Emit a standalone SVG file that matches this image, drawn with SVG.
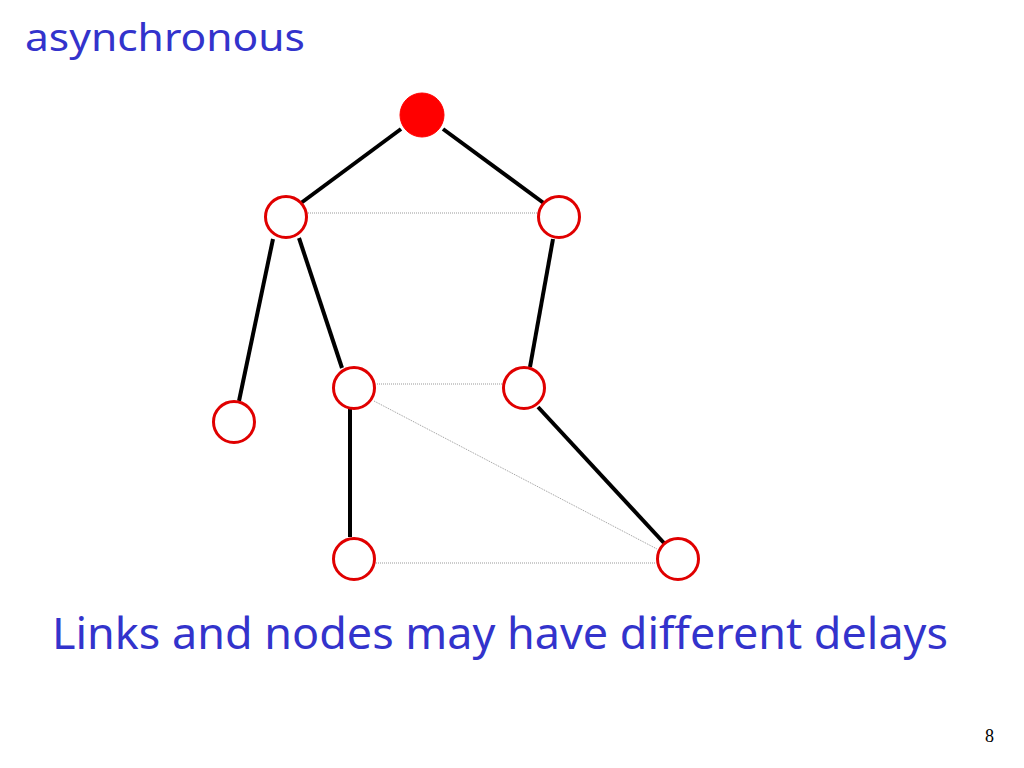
<svg xmlns="http://www.w3.org/2000/svg" width="1024" height="768" viewBox="0 0 1024 768">
<style>
.title{font-family:"Noto Sans","Open Sans",sans-serif;fill:#3333cc}
.solid{stroke:#000;stroke-width:4;fill:none}
.dot{stroke:#999;stroke-width:1;stroke-dasharray:1,1;fill:none}
.node{fill:#fff;stroke:#e00000;stroke-width:3}
.root{fill:#ff0000;stroke:#ff0000;stroke-width:1}
</style>
<rect width="1024" height="768" fill="#fff"/>
<text class="title" x="25" y="51" font-size="39" textLength="280" lengthAdjust="spacingAndGlyphs">asynchronous</text>
<g id="connectors">
<line class="solid" x1="401" y1="129" x2="301" y2="203"/>
<line class="solid" x1="443" y1="129" x2="545" y2="204"/>
<line class="solid" x1="273" y1="239" x2="239" y2="401"/>
<line class="solid" x1="299" y1="238" x2="342" y2="368"/>
<line class="solid" x1="553" y1="239" x2="530" y2="367"/>
<line class="solid" x1="350" y1="409" x2="350" y2="537"/>
<line class="solid" x1="538" y1="407" x2="664" y2="543"/>
<line class="dot" x1="308" y1="213" x2="537" y2="213"/>
<line class="dot" x1="377" y1="384" x2="503" y2="384"/>
<line class="dot" x1="374" y1="401" x2="657" y2="549"/>
<line class="dot" x1="376" y1="563" x2="656" y2="563"/>
</g>
<g id="root"><circle class="root" cx="422" cy="115" r="22"/></g>
<g id="nodeA"><circle class="node" cx="286" cy="217" r="20.5"/></g>
<g id="nodeB"><circle class="node" cx="559" cy="217" r="20.5"/></g>
<g id="nodeC"><circle class="node" cx="234" cy="422" r="20.5"/></g>
<g id="nodeD"><circle class="node" cx="354" cy="388" r="20.5"/></g>
<g id="nodeE"><circle class="node" cx="524" cy="388" r="20.5"/></g>
<g id="nodeF"><circle class="node" cx="354" cy="559" r="20.5"/></g>
<g id="nodeG"><circle class="node" cx="678" cy="559" r="20.5"/></g>
<text class="title" x="52" y="649" font-size="44" textLength="896" lengthAdjust="spacingAndGlyphs">Links and nodes may have different delays</text>
<text x="985" y="742" font-family="'Liberation Serif',serif" font-size="18" fill="#000">8</text>
</svg>
